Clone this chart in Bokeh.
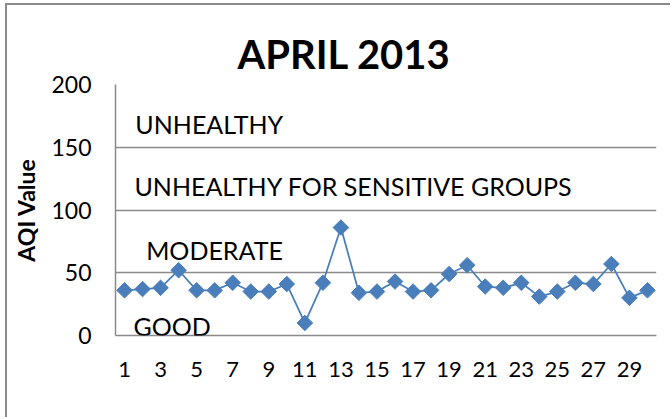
import math
from bokeh.plotting import figure
from bokeh.models import Range1d, FixedTicker, Label
from bokeh.embed import file_html
from bokeh.resources import INLINE

days = list(range(1, 31))
aqi = [36, 37, 38, 52, 36, 36, 42, 35, 35, 41, 10, 42, 86, 34, 35,
       43, 35, 36, 49, 56, 39, 38, 42, 31, 35, 42, 41, 57, 30, 36]
y_ticks = [0, 50, 100, 150, 200]
x_ticks = list(range(1, 30, 2))
title_text = "APRIL 2013"
y_label = "AQI Value"
band_names = ["UNHEALTHY", "UNHEALTHY FOR SENSITIVE GROUPS", "MODERATE", "GOOD"]

FONT = "Lato"
GRAY = "#8a8a8a"
BLUE = "#4A7EBB"

p = figure(width=665, height=414, output_backend="svg", toolbar_location=None,
           x_range=Range1d(0.5, 30.5), y_range=Range1d(0, 200),
           min_border_left=108, min_border_right=16, min_border_top=79, min_border_bottom=84)
p.styles = {"margin-left": "5px", "margin-top": "3px",
            "border-left": "2px solid #8a8a8a", "border-top": "2px solid #8a8a8a"}
p.outline_line_color = None
p.background_fill_color = "white"
p.border_fill_color = "white"

# title
p.title.text = title_text
p.title.align = "left"
p.title.offset = 122
p.title.text_font = FONT
p.title.text_font_style = "bold"
p.title.text_font_size = "40px"
p.title.text_color = "black"
p.title.standoff = 13

# axes
p.xaxis.ticker = FixedTicker(ticks=x_ticks)
p.yaxis.ticker = FixedTicker(ticks=y_ticks)
for ax in (p.xaxis, p.yaxis):
    ax.axis_line_color = GRAY
    ax.axis_line_width = 1.5
    ax.major_tick_line_color = None
    ax.minor_tick_line_color = None
    ax.major_tick_out = 0
    ax.major_tick_in = 0
    ax.major_label_text_font = FONT
    ax.major_label_text_color = "black"
p.yaxis.major_label_text_font_size = "23px"
p.xaxis.major_label_text_font_size = "22px"
p.yaxis.major_label_standoff = 24
p.xaxis.major_label_standoff = 26
p.yaxis.axis_label = y_label
p.yaxis.axis_label_text_font = FONT
p.yaxis.axis_label_text_font_style = "bold"
p.yaxis.axis_label_text_font_size = "23px"
p.yaxis.axis_label_text_color = "black"
p.yaxis.axis_label_standoff = 8

p.xgrid.grid_line_color = None
p.ygrid.ticker = FixedTicker(ticks=y_ticks)
p.ygrid.grid_line_color = GRAY
p.ygrid.grid_line_width = 1.5

# series
p.line(days, aqi, line_color=BLUE, line_width=1.75)
p.scatter(days, aqi, marker="square", size=11, angle=math.pi / 4,
          fill_color=BLUE, line_color=BLUE)

# band labels
band_x = [1.6, 1.55, 2.2, 1.5]
band_y = [168.5, 119.5, 68.5, 7.8]
for name, bx, by in zip(band_names, band_x, band_y):
    p.add_layout(Label(x=bx, y=by, text=name, text_align="left",
                       text_baseline="middle", text_font=FONT,
                       text_font_size="25px", text_color="black"))

open("out.html", "w").write(file_html(p, INLINE))
